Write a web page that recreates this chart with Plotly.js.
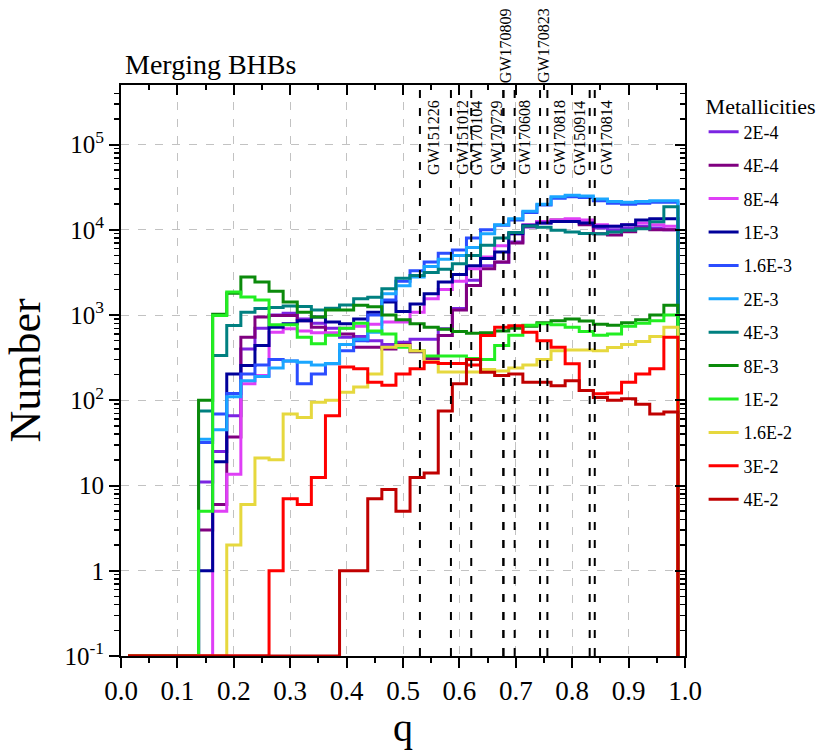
<!DOCTYPE html>
<html><head><meta charset="utf-8">
<script src="https://cdn.plot.ly/plotly-3.0.1.min.js"></script>
<style>html,body{margin:0;padding:0;background:#fff}#chart{width:830px;height:750px}</style>
</head><body><div id="chart"></div>
<script>
// Bin edges of the q histogram (bin width 0.025)
const qBinEdges = [0.0125,0.0375,0.0625,0.0875,0.1125,0.1375,0.1625,0.1875,0.2125,0.2375,
  0.2625,0.2875,0.3125,0.3375,0.3625,0.3875,0.4125,0.4375,0.4625,0.4875,
  0.5125,0.5375,0.5625,0.5875,0.6125,0.6375,0.6625,0.6875,0.7125,0.7375,
  0.7625,0.7875,0.8125,0.8375,0.8625,0.8875,0.9125,0.9375,0.9625,0.9875];
const emptyCount = 0.1; // empty bins sit on the bottom of the log axis

const metallicities = ["2E-4","4E-4","8E-4","1E-3","1.6E-3","2E-3","4E-3","8E-3","1E-2","1.6E-2","3E-2","4E-2"];

const n_2E4 = [0.1,0.1,0.1,0.1,0.1, 11,25,66,400,700,1000,1050,900,800,700,550,560,500,450,480,520,520,690,1190,2560,3800,4150,7200,10800,12000,12500,12500,12000,10500,10000,10500,11000,10500,10000];
const n_4E4 = [0.1,0.1,0.1,0.1,0.1, 3,6,37,550,950,990,990,860,720,600,600,420,420,400,450,370,310,575,1150,2220,3500,4200,7000,11000,12500,13000,13000,11500,9000,8700,9500,10500,10000,10000];
const n_8E4 = [0.1,0.1,0.1,0.1,0.1,0.1, 5,13.6,156,195,630,690,650,620,620,700,740,780,830,830,1080,1550,2000,2500,3500,4800,6500,9000,11500,12500,13000,13500,13000,11500,11000,11500,12000,11500,11000];
const n_1E3 = [0.1,0.1,0.1,0.1,0.1, 1,19,204,256,440,720,790,860,950,830,790,900,1080,1420,1100,1350,1780,2450,3000,3800,4600,5500,9000,11300,12000,12500,12500,12000,11000,11000,11500,13000,13500,13500];
const n_16E3 = [0.1,0.1,0.1,0.1,0.1, 32,69,120,204,260,300,290,156,204,268,380,500,1000,1500,2500,3300,4200,5300,5800,8000,10000,11300,13000,16000,19500,23500,24500,24000,22000,20500,20000,20500,21000,21000];
const n_2E3 = [0.1,0.1,0.1,0.1,0.1, 35,45,110,170,190,240,290,280,260,270,450,520,630,1780,2200,2800,3700,4500,5000,6200,9000,11500,13500,16500,20000,24500,25500,25000,23000,21500,21000,21500,22000,22000];
const n_4E3 = [0.1,0.1,0.1,0.1,0.1, 75,335,755,1080,1190,1230,1280,1260,1150,1200,1310,1550,1620,2040,2700,2920,3150,3440,4000,5000,6600,8000,9300,11100,10700,9900,9400,9040,9000,9400,9900,10300,12400,18600];
const n_8E3 = [0.1,0.1,0.1,0.1,0.1, 100,1020,1800,2800,2450,1900,1420,1080,950,1150,1150,1300,1250,1000,880,790,720,680,640,610,620,650,700,740,810,860,900,850,780,760,810,880,1000,1300];
const n_1E2 = [0.1,0.1,0.1,0.1,0.1, 5,990,1870,1630,1500,770,770,550,460,580,700,800,650,600,420,380,330,330,330,310,300,440,580,760,790,770,720,640,580,600,740,800,860,1000];
const n_16E2 = [0.1,0.1,0.1,0.1,0.1,0.1,0.1, 2,6,21,20,69,63,95,100,124,143,204,420,440,380,283,215,215,215,230,220,240,260,300,380,390,390,380,415,450,490,560,720];
const n_3E2 = [0.1,0.1,0.1,0.1,0.1,0.1,0.1,0.1,0.1,0.1, 1,7,6,12.4,66,245,235,163,150,204,234,280,270,270,260,575,720,750,630,500,420,268,130,119,122,163,204,234,550];
const n_4E2 = [0.1,0.1,0.1,0.1,0.1,0.1,0.1,0.1,0.1,0.1,0.1,0.1,0.1,0.1,0.1, 1,1,7,9,5,12.4,14,75,156,300,214,195,204,163,163,148,170,130,108,100,104,90,69,73];

const seriesCounts = [n_2E4,n_4E4,n_8E4,n_1E3,n_16E3,n_2E3,n_4E3,n_8E3,n_1E2,n_16E2,n_3E2,n_4E2];
const seriesColors = ["#7b24e2","#800080","#df3ff6","#00009a","#2b4dff","#1aa6ff","#008080","#0b8a0b","#22ee22","#e6d83e","#ff0000","#c00000"];

// Gravitational-wave events (q of the vertical reference lines)
const gwNames = ["GW151226","GW151012","GW170104","GW170729","GW170809","GW170608","GW170823","GW170818","GW150914","GW170814"];
const gwQ     = [0.530,0.585,0.621,0.678,0.678,0.698,0.743,0.756,0.831,0.840];
const gwLabelQ = [0.554,0.605,0.631,0.666,0.682,0.715,0.749,0.777,0.812,0.861];
const gwUpper  = [false,false,false,false,true,false,true,false,false,false];

const yTickVals = [0.1,1,10,100,1000,10000,100000];
const yTickText = ["10<sup>-1</sup>","1","10","10<sup>2</sup>","10<sup>3</sup>","10<sup>4</sup>","10<sup>5</sup>"];

const FONT = "'Liberation Serif', 'Times New Roman', serif";
const yMinor = [];
for (let d = -1; d <= 5; d++) for (let m = 2; m <= 9; m++) { const v = m * Math.pow(10, d); if (v < 5e5) yMinor.push(v); }

const traces = metallicities.map((name, i) => ({
  type: "scatter", mode: "lines", name: name,
  x: qBinEdges, y: seriesCounts[i].concat([emptyCount]),
  line: {shape: "hv", color: seriesColors[i], width: 3},
  legendgroup: name, hoverinfo: "x+y+name"
}));
traces.push({type:"scatter", mode:"lines", x:[null], y:[null], xaxis:"x2", yaxis:"y", showlegend:false, hoverinfo:"skip"});
traces.push({type:"scatter", mode:"lines", x:[null], y:[null], xaxis:"x", yaxis:"y2", showlegend:false, hoverinfo:"skip"});

const yRange = [-1, Math.log10(5e5)];
const shapes = gwQ.map(q => ({type:"line", xref:"x", yref:"paper", x0:q, x1:q, y0:0, y1:1,
  line:{color:"#000", width:2, dash:"8px,10px"}}));
const annotations = gwNames.map((n, i) => ({
  x: gwLabelQ[i], xref: "x", y: gwUpper[i] ? 1.0 : 0.839, yref: "paper",
  text: n, textangle: -90, showarrow: false, xanchor: "center", yanchor: "bottom",
  font: {family: FONT, size: 16, color: "#000"}
}));

const layout = {
  width: 830, height: 750,
  margin: {l: 121, r: 138, t: 85, b: 94},
  paper_bgcolor: "#fff", plot_bgcolor: "#fff",
  font: {family: FONT, color: "#000"},
  title: {text: "Merging BHBs", x: 125/830, xref: "container", xanchor: "left",
          y: 1 - 64/750, yref: "container", yanchor: "middle",
          font: {family: FONT, size: 28, color: "#000"}},
  showlegend: true,
  legend: {x: 1.033, xanchor: "left", y: 1.0, yanchor: "top",
           title: {text: "Metallicities", font: {family: FONT, size: 22, color: "#000"}},
           font: {family: FONT, size: 18, color: "#000"},
           tracegroupgap: 7, bgcolor: "rgba(0,0,0,0)", borderwidth: 0},
  xaxis: {range: [0, 1], tick0: 0, dtick: 0.1, tickformat: ".1f",
          ticks: "outside", ticklen: 10, tickwidth: 2, tickcolor: "#000",
          showline: true, linewidth: 2, linecolor: "#000", mirror: true,
          showgrid: true, gridcolor: "#c2c2c2", gridwidth: 1, griddash: "8px,9px",
          zeroline: false, automargin: false,
          minor: {dtick: 0.05, tick0: 0, ticks: "outside", ticklen: 5, tickwidth: 2, tickcolor: "#000", showgrid: false},
          tickfont: {family: FONT, size: 27, color: "#000"},
          title: {text: "q", font: {family: FONT, size: 40, color: "#000"}, standoff: 6}},
  yaxis: {type: "log", range: yRange, tickmode: "array", tickvals: yTickVals, ticktext: yTickText,
          ticks: "outside", ticklen: 10, tickwidth: 2, tickcolor: "#000",
          showline: true, linewidth: 2, linecolor: "#000", mirror: true,
          showgrid: true, gridcolor: "#c2c2c2", gridwidth: 1, griddash: "8px,9px",
          zeroline: false, automargin: false,
          minor: {tickmode: "array", tickvals: yMinor, ticks: "outside", ticklen: 5, tickwidth: 1.5, tickcolor: "#000", showgrid: false},
          tickfont: {family: FONT, size: 25, color: "#000"},
          title: {text: "Number", font: {family: FONT, size: 44, color: "#000"}, standoff: 10}},
  xaxis2: {overlaying: "x", side: "top", anchor: "y", range: [0, 1], tick0: 0, dtick: 0.1,
           ticks: "inside", ticklen: 10, tickwidth: 2, tickcolor: "#000",
           showticklabels: false, showgrid: false, showline: false, zeroline: false,
           minor: {dtick: 0.05, tick0: 0, ticks: "inside", ticklen: 5, tickwidth: 2, tickcolor: "#000", showgrid: false}},
  yaxis2: {overlaying: "y", side: "right", anchor: "x", type: "log", range: yRange,
           tickmode: "array", tickvals: yTickVals,
           ticks: "inside", ticklen: 10, tickwidth: 2, tickcolor: "#000",
           showticklabels: false, showgrid: false, showline: false, zeroline: false,
           minor: {tickmode: "array", tickvals: yMinor, ticks: "inside", ticklen: 5, tickwidth: 1.5, tickcolor: "#000", showgrid: false}},
  shapes: shapes,
  annotations: annotations
};

Plotly.newPlot("chart", traces, layout, {displayModeBar: false, staticPlot: true});
</script>
</body></html>
